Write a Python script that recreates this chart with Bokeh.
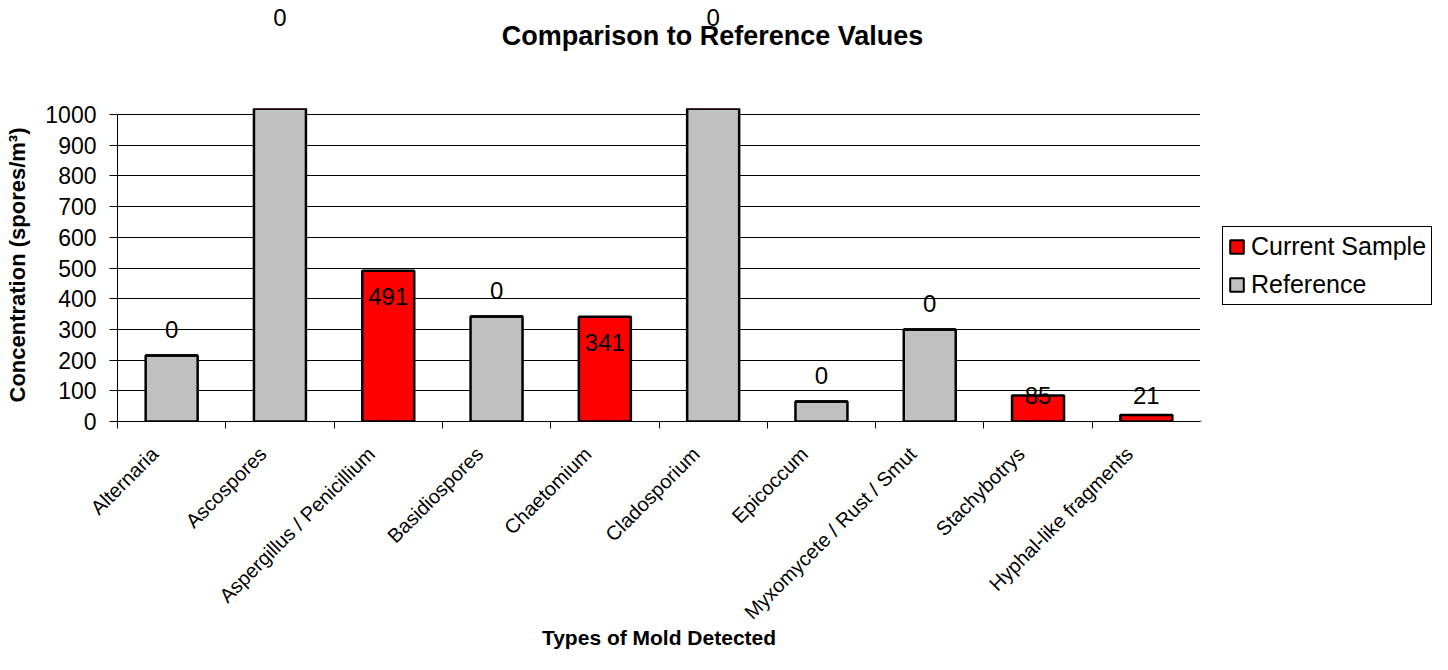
import numpy as np
from bokeh.plotting import figure
from bokeh.layouts import column, row
from bokeh.models import (ColumnDataSource, Range1d, FixedTicker, LabelSet, Label,
                          Legend, LegendItem)
from bokeh.embed import file_html
from bokeh.resources import INLINE
from bokeh.core.properties import value

# ---------------- data ----------------
categories = ["Alternaria", "Ascospores", "Aspergillus / Penicillium",
              "Basidiospores", "Chaetomium", "Cladosporium", "Epicoccum",
              "Myxomycete / Rust / Smut", "Stachybotrys", "Hyphal-like fragments"]
current_sample = [0, 0, 491, 0, 341, 0, 0, 0, 85, 21]
reference = [215, 1230, 0, 342, 0, 1230, 65, 300, 0, 0]
y_ticks = [0, 100, 200, 300, 400, 500, 600, 700, 800, 900, 1000]
series_names = ["Current Sample", "Reference"]
title_text = "Comparison to Reference Values"
x_title = "Types of Mold Detected"
y_title = "Concentration (spores/m³)"

# ---------------- style / layout (pixels) ----------------
FONT = "Liberation Sans"
RED = "#FF0000"
GRAY = "#C0C0C0"

W, H = 1432, 654
LEFT, RIGHT = 117, 1200        # plot area horizontal extent
ZERO_PX = 421                  # screen y of value 0
GRID_PX = 307                  # screen height of 0..Y_MAX
CLIP_PX = 6                    # tall bars visible above top gridline
HEADER_H = 90
TITLE_CX, TITLE_CY = 712, 35
LEG_LEFT, LEG_BOTTOM = 1222, 305
LABEL_OFF = 26

Y_MAX = y_ticks[-1]
n = len(categories)
ppu = GRID_PX / Y_MAX
ppc = (RIGHT - LEFT) / n
main_h = H - HEADER_H
frame_top = ZERO_PX - GRID_PX - CLIP_PX
y_clip = (GRID_PX + CLIP_PX) / ppu

x = [i + 0.5 for i in range(n)]

# data label positions (stacked bar: reference below, current sample on top)
lab_x, lab_y, lab_off, lab_t, in_main = [], [], [], [], []
for xi, r, c in zip(x, reference, current_sample):
    if c * ppu > 2 * LABEL_OFF:
        y, off = r + c, -LABEL_OFF
    else:
        y, off = r, LABEL_OFF
    lab_x.append(xi); lab_y.append(y); lab_off.append(off); lab_t.append(str(c))
    in_main.append(y * ppu + off < GRID_PX + CLIP_PX)

def label_source(flag):
    idx = [i for i in range(n) if in_main[i] == flag]
    return ColumnDataSource(dict(x=[lab_x[i] for i in idx], y=[lab_y[i] for i in idx],
                                 off=[lab_off[i] for i in idx], text=[lab_t[i] for i in idx]))

def data_labels(src):
    return LabelSet(x="x", y="y", text="text", y_offset="off", source=src,
                    text_align="center", text_baseline="middle",
                    text_font=value(FONT), text_font_size="24px", text_color="black")

xr = Range1d(0, n)
common = dict(toolbar_location=None, output_backend="svg", title_location=None)

# ---------------- header (title + labels above the clipped bars) ----------------
header = figure(width=W, height=HEADER_H, x_range=xr,
                y_range=Range1d((ZERO_PX - HEADER_H) / ppu, ZERO_PX / ppu),
                x_axis_type=None, y_axis_type=None,
                min_border_left=LEFT, min_border_right=W - RIGHT,
                min_border_top=0, min_border_bottom=0, **common)
header.outline_line_color = None
header.add_layout(Label(x=TITLE_CX - LEFT, y=HEADER_H - TITLE_CY,
                        x_units="screen", y_units="screen", text=title_text,
                        text_align="center", text_baseline="middle",
                        text_font=FONT, text_font_size="27px",
                        text_font_style="bold", text_color="black"))
header.add_layout(data_labels(label_source(False)))

# ---------------- main chart ----------------
source = ColumnDataSource(dict(x=x, reference=reference, current=current_sample))
p = figure(width=RIGHT, height=main_h, x_range=xr, y_range=Range1d(0, y_clip),
           min_border_left=LEFT, min_border_right=0,
           min_border_top=frame_top - HEADER_H, min_border_bottom=H - ZERO_PX, **common)
p.outline_line_color = None

bars = p.vbar_stack(["reference", "current"], x="x", width=0.48, source=source,
                    fill_color=[GRAY, RED], line_color="black", line_width=2.5)
p.add_layout(data_labels(label_source(True)))

p.xgrid.grid_line_color = None
p.ygrid.grid_line_color = "black"
p.ygrid.grid_line_width = 1

ya = p.yaxis[0]
ya.ticker = FixedTicker(ticks=y_ticks)
ya.bounds = (0, Y_MAX)
ya.axis_label = y_title
ya.axis_label_text_font = FONT
ya.axis_label_text_font_size = "22px"
ya.axis_label_text_font_style = "bold"
ya.axis_label_text_color = "black"
ya.axis_label_standoff = 12
ya.major_label_text_font = FONT
ya.major_label_text_font_size = "23px"
ya.major_label_text_color = "black"
ya.major_label_standoff = 13
ya.major_tick_out = 8
ya.major_tick_in = 0
ya.minor_tick_out = 0
ya.minor_tick_in = 0
ya.axis_line_color = "black"
ya.major_tick_line_color = "black"

xa = p.xaxis[0]
shift = 17 / ppc
label_pos = [round(xi - shift, 4) for xi in x]
xa.ticker = FixedTicker(ticks=label_pos, minor_ticks=list(range(n + 1)))
xa.major_label_overrides = {t: c for t, c in zip(label_pos, categories)}
xa.major_label_orientation = np.pi / 4
xa.major_label_text_font = FONT
xa.major_label_text_font_size = "20px"
xa.major_label_text_color = "black"
xa.major_label_standoff = 22
xa.major_tick_out = 0
xa.major_tick_in = 0
xa.minor_tick_out = 7
xa.minor_tick_in = 0
xa.minor_tick_line_color = "black"
xa.axis_line_color = "black"
xa.axis_label = x_title
xa.axis_label_text_font = FONT
xa.axis_label_text_font_size = "21px"
xa.axis_label_text_font_style = "bold"
xa.axis_label_text_color = "black"
xa.axis_label_standoff = -8

# ---------------- legend panel (its frame is aligned with the main plot frame) ----------------
lf = figure(width=W - RIGHT, height=main_h, x_range=Range1d(0, 1), y_range=Range1d(0, 1),
            x_axis_type=None, y_axis_type=None, min_border=0, **common)
lf.outline_line_color = None
# legend key proxies: one off-range point each so the legend swatch is drawn
proxy_cur = lf.vbar(x=[-10], top=[-10], bottom=[-11], width=0.5,
                    fill_color=RED, line_color="black", line_width=2)
proxy_ref = lf.vbar(x=[-10], top=[-10], bottom=[-11], width=0.5,
                    fill_color=GRAY, line_color="black", line_width=2)
legend = Legend(items=[LegendItem(label=series_names[0], renderers=[proxy_cur]),
                       LegendItem(label=series_names[1], renderers=[proxy_ref])],
                location=(LEG_LEFT - RIGHT, ZERO_PX - LEG_BOTTOM), margin=0, padding=5,
                spacing=9, glyph_width=17, glyph_height=17, label_standoff=6,
                label_text_font=FONT, label_text_font_size="25px",
                label_text_color="black",
                border_line_color="black", border_line_width=1, border_line_alpha=1,
                background_fill_color="white", background_fill_alpha=1)
lf.add_layout(legend)

layout = column(header, row(p, lf))
open("out.html", "w").write(file_html(layout, INLINE))
